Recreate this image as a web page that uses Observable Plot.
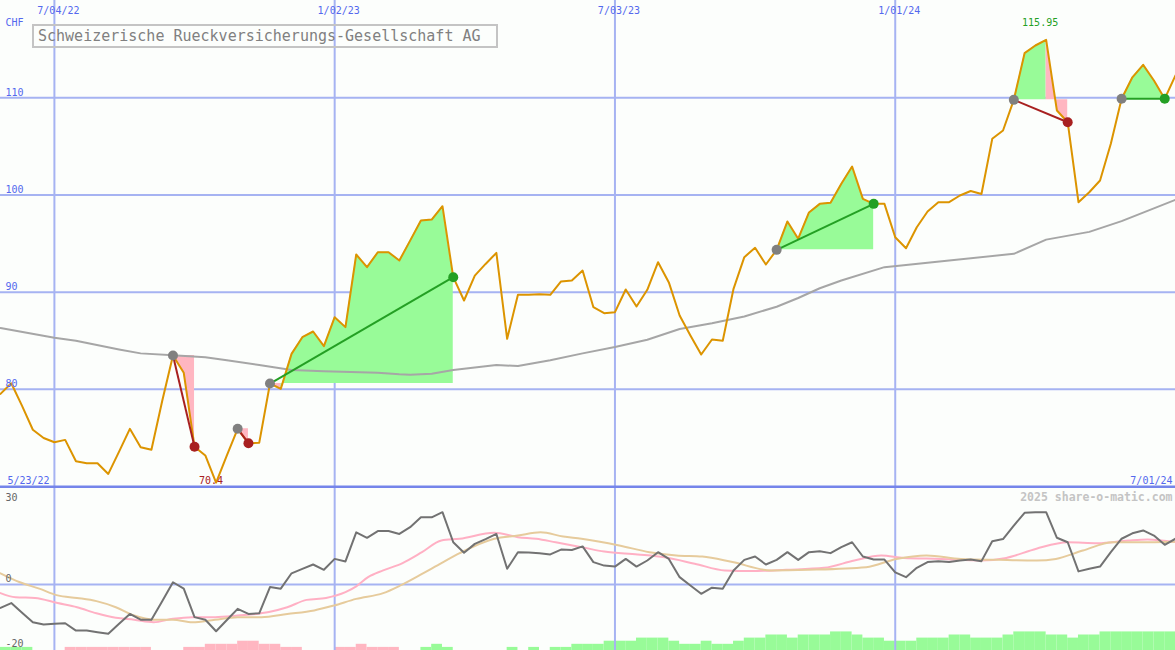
<!DOCTYPE html>
<html>
<head>
<meta charset="utf-8">
<script src="https://cdn.jsdelivr.net/npm/d3@7"></script>
<script src="https://cdn.jsdelivr.net/npm/@observablehq/plot@0.6"></script>
<style>
  html, body { margin: 0; padding: 0; background: #fcfefc; }
  #wrap { position: relative; width: 1175px; height: 650px; overflow: hidden; background: #fcfefc; font-family: "DejaVu Sans Mono", monospace; }
  #wrap svg { position: absolute; left: 0; overflow: hidden; }
  #title { position: absolute; left: 32px; top: 24px; width: 458px; height: 20px; border: 2px solid #c4c4c4;
           font: 15px/20px "DejaVu Sans Mono", monospace; color: #808080; padding-left: 4px; box-sizing: content-box; white-space: nowrap; z-index: 5; }
</style>
</head>
<body>
<div id="wrap"><div id="title"></div></div>
<script>
// ---------------- data ----------------
const titleText = "Schweizerische Rueckversicherungs-Gesellschaft AG";
const currency = "CHF";
const firstDate = "2022-05-30";           // weekly series, one point per Monday
const startLabel = "5/23/22";
const endLabel = "7/01/24";
const tickDates = ["2022-07-04", "2023-01-02", "2023-07-03", "2024-01-01"];
const tickLabels = ["7/04/22", "1/02/23", "7/03/23", "1/01/24"];
const priceTicks = [80, 90, 100, 110];
const oscTicks = [30, 0, -20];
const watermark = "2025 share-o-matic.com";

// weekly closing prices (CHF)
const price = [
  79.54, 80.63, 78.3, 75.84, 75.0, 74.56, 74.8, 72.6, 72.4, 72.4,
  71.3, 73.6, 75.94, 74.05, 73.78, 78.8, 83.48, 81.7, 74.1, 73.2,
  70.4, 73.2, 75.94, 74.46, 74.5, 80.6, 80.05, 83.65, 85.36, 85.95,
  84.44, 87.42, 86.4, 93.87, 92.57, 94.1, 94.1, 93.25, 95.3, 97.37,
  97.47, 98.84, 91.54, 89.14, 91.7, 92.9, 94.04, 85.2, 89.72, 89.72,
  89.79, 89.72, 91.1, 91.2, 92.22, 88.45, 87.84, 87.94, 90.27, 88.52,
  90.24, 93.08, 91.0, 87.6, 85.54, 83.58, 85.13, 85.0, 90.34, 93.6,
  94.56, 92.84, 94.35, 97.27, 95.5, 98.2, 99.08, 99.19, 101.14, 102.92,
  99.6, 99.08, 99.08, 95.65, 94.52, 96.68, 98.29, 99.25, 99.25, 99.94,
  100.4, 100.1, 105.77, 106.63, 109.78, 114.58, 115.37, 115.95, 108.68, 107.48,
  99.25, 100.28, 101.48, 105.26, 109.89, 112.1, 113.38, 111.77, 109.89, 112.3
];

// long moving average (week index, value)
const maWeeks  = [0, 5, 7, 11, 13, 16, 19, 21, 24, 27, 30, 35, 37, 38, 40, 42, 46, 48, 51, 54, 57, 60, 63, 66, 69, 72, 74, 76, 78, 82, 88, 94, 97, 101, 104, 109];
const maValues = [86.3, 85.3, 85.0, 84.1, 83.7, 83.5, 83.3, 83.0, 82.5, 82.0, 81.85, 81.7, 81.55, 81.5, 81.6, 82.0, 82.5, 82.4, 83.0, 83.7, 84.35, 85.1, 86.2, 86.8, 87.5, 88.5, 89.4, 90.4, 91.2, 92.57, 93.25, 93.94, 95.4, 96.2, 97.3, 99.5];

// trade signals (week indices)
const signalEntry = [16, 22, 25, 72, 94, 104];
const signalExit  = [18, 23, 42, 81, 99, 108];
// shaded zones: from week, to week, signal index, gain(1)/loss(0)
const fillFrom   = [16, 22, 25, 26, 72, 94, 97, 104];
const fillTo     = [18, 23, 26, 42, 81, 97, 99, 108];
const fillSignal = [0, 1, 2, 2, 3, 4, 4, 5];
const fillGain   = [0, 0, 0, 1, 1, 1, 0, 1];

// lower panel: weekly oscillator
const osc = [
  -7.3, -5.8, -8.8, -11.8, -12.5, -12.3, -12.1, -14.4, -14.4, -14.9,
  -15.4, -12.3, -9.2, -11.0, -11.0, -5.2, 0.7, -1.3, -10.2, -11.0,
  -14.6, -11.1, -7.6, -9.2, -9.0, -0.8, -1.3, 3.5, 4.9, 6.25,
  4.6, 8.0, 7.2, 16.3, 14.6, 16.7, 16.7, 15.8, 17.9, 21.0,
  21.0, 22.6, 13.2, 9.9, 12.7, 14.2, 15.8, 4.9, 10.1, 10.0,
  9.8, 9.4, 10.9, 10.8, 11.9, 7.0, 5.9, 5.6, 8.0, 5.6,
  7.5, 10.1, 8.0, 2.3, -0.3, -2.9, -1.0, -1.3, 4.4, 7.7,
  8.75, 6.25, 7.7, 10.1, 7.7, 10.1, 10.4, 9.8, 11.7, 13.2,
  8.75, 7.8, 7.8, 3.8, 2.3, 5.2, 7.0, 7.3, 7.0, 7.5,
  7.8, 7.3, 13.5, 14.2, 18.4, 22.4, 22.6, 22.6, 14.6, 13.2,
  4.1, 4.9, 5.6, 10.1, 14.3, 16.0, 16.9, 15.3, 12.4, 14.3
];
// smoothed signal lines (week position, value)
const pinkWeeks  = [0, 1.4, 3.2, 5.3, 7.1, 8.9, 10.7, 12.4, 14.2, 16, 17.8, 19.9, 22, 24.9, 26.6, 28.4, 30.2, 32, 33, 34.1, 35.5, 37.3, 39.1, 40.9, 42.6, 45.8, 48, 49.7, 51.5, 54, 56, 59.1, 61.6, 64.4, 67.2, 69.7, 72.9, 76.4, 79.2, 81.7, 83.8, 87.3, 90.9, 93.3, 96.1, 99, 101.8, 104.6, 106.4, 109.1];
const pinkValues = [-2.7, -4.0, -4.2, -5.8, -7.1, -9.0, -10.4, -11.0, -11.8, -10.7, -10.2, -10.2, -9.7, -8.6, -7.1, -4.8, -4.2, -2.4, -0.6, 2.3, 4.4, 6.7, 10.1, 13.75, 14.3, 16.2, 14.8, 14.3, 13.2, 11.6, 10.3, 9.4, 8.5, 6.5, 4.4, 4.2, 4.6, 5.2, 7.5, 9.1, 8.3, 8.0, 7.5, 8.3, 11.2, 13.2, 12.9, 13.75, 14.1, 13.2];
const tanWeeks   = [0, 1.8, 3.6, 5.3, 7.1, 8.9, 10.7, 12.4, 14.2, 16, 17.8, 19.9, 22, 24.2, 26.6, 29.1, 30.9, 33, 35.5, 37.1, 39.1, 40.9, 42.6, 45.8, 48, 50.1, 52.2, 53.9, 57.4, 60.2, 62.7, 65.1, 67.9, 71.5, 75, 80.3, 83.1, 85.9, 89.1, 92.6, 96.1, 97.9, 100.4, 103.2, 105.7, 109.1];
const tanValues  = [3.5, 0.7, -1.3, -3.4, -4.2, -5.2, -7.1, -9.7, -11.0, -11.0, -11.8, -11.0, -10.2, -10.2, -9.2, -8.1, -6.6, -4.5, -2.7, -0.3, 3.3, 6.7, 9.8, 14.3, 15.3, 16.3, 15.0, 14.3, 12.2, 10.1, 9.1, 8.75, 7.0, 4.4, 4.6, 5.4, 8.0, 9.1, 8.0, 7.7, 7.5, 8.0, 10.6, 13.2, 13.2, 13.4];
// weekly histogram levels (positive = green, negative = pink)
const histLevels = [
  1, 1, 1, 0, 0, 0, -1, -1, -1, -1,
  -1, -1, -1, -1, 0, 0, 0, -1, -1, -2,
  -2, -2, -3, -3, -2, -2, -1, -1, 0, 0,
  0, -1, -1, -2, -1, -1, -1, 0, 0, 1,
  2, 1, 0, 0, 0, 0, 0, 1, 0, 1,
  0, 1, 1, 2, 2, 2, 3, 3, 3, 4,
  4, 4, 3, 2, 2, 3, 2, 2, 3, 4,
  4, 5, 5, 4, 5, 5, 5, 6, 6, 5,
  4, 4, 3, 3, 3, 4, 4, 4, 5, 5,
  4, 4, 4, 5, 6, 6, 6, 5, 5, 4,
  5, 5, 6, 6, 6, 6, 6, 6, 6, 6
];

// ---------------- styles ----------------
const FONT = "DejaVu Sans Mono";
const GRID = "#a6b3f2";
const SEP = "#7585ea";
const LABEL_BLUE = "#5468ee";
const ORANGE = "#dc9400";
const GREEN_FILL = "#98fb98";
const PINK_FILL = "#ffb6c1";
const GAIN = "#24a024";
const LOSS = "#a82020";

document.getElementById("title").textContent = titleText;

const W0 = new Date(firstDate).getTime();
const wk = w => new Date(W0 + w * 7 * 864e5);
const xDomain = [wk(0), wk(price.length - 1)];
const ticks = tickDates.map(s => new Date(s));

const priceData = price.map((v, i) => ({w: i, date: wk(i), v}));
const maData = maWeeks.map((w, i) => ({date: wk(w), v: maValues[i]}));

const signals = signalEntry.map((e, i) => {
  const x = signalExit[i];
  return {e, x, d1: wk(e), d2: wk(x), p1: price[e], p2: price[x], gain: price[x] >= price[e]};
});

const fillData = [];
fillFrom.forEach((f, k) => {
  const base = price[signalEntry[fillSignal[k]]];
  for (let w = f; w <= fillTo[k]; w++) fillData.push({seg: k, gain: fillGain[k], date: wk(w), base, v: price[w]});
});

const minIdx = d3.minIndex(price);
const maxIdx = d3.maxIndex(price);

const wrap = document.getElementById("wrap");

// ---------------- upper panel ----------------
const upperPanel = Plot.plot({
  width: 1175, height: 488, margin: 0,
  x: {type: "utc", domain: xDomain, range: [0, 1175], axis: null},
  y: {domain: [69.8, 120], range: [488, 0], axis: null},
  style: {background: "transparent", fontFamily: FONT, overflow: "hidden"},
  marks: [
    Plot.ruleX(ticks, {stroke: GRID, strokeWidth: 2}),
    Plot.ruleY(priceTicks, {stroke: GRID, strokeWidth: 2}),
    Plot.areaY(fillData.filter(d => d.gain), {x: "date", y1: "base", y2: "v", z: "seg", fill: GREEN_FILL}),
    Plot.areaY(fillData.filter(d => !d.gain), {x: "date", y1: "base", y2: "v", z: "seg", fill: PINK_FILL}),
    Plot.line(maData, {x: "date", y: "v", stroke: "#a6a6a6", strokeWidth: 2}),
    Plot.line(priceData, {x: "date", y: "v", stroke: ORANGE, strokeWidth: 2}),
    Plot.link(signals, {x1: "d1", y1: "p1", x2: "d2", y2: "p2", stroke: d => d.gain ? GAIN : LOSS, strokeWidth: 2}),
    Plot.dot(signals, {x: "d1", y: "p1", r: 5, fill: "#808080"}),
    Plot.dot(signals, {x: "d2", y: "p2", r: 5, fill: d => d.gain ? GAIN : LOSS}),
    Plot.text(ticks, {x: d => d, frameAnchor: "top", dy: 13, dx: 4, lineAnchor: "bottom", text: (d, i) => tickLabels[i], fill: LABEL_BLUE, fontSize: 10}),
    Plot.text(priceTicks, {y: d => d, frameAnchor: "left", dx: 5, dy: -2, lineAnchor: "bottom", textAnchor: "start", text: d => String(d), fill: LABEL_BLUE, fontSize: 10}),
    Plot.text([currency], {frameAnchor: "top-left", dx: 5, dy: 25, lineAnchor: "bottom", textAnchor: "start", text: d => d, fill: LABEL_BLUE, fontSize: 10}),
    Plot.text([startLabel], {frameAnchor: "bottom-left", dx: 7, dy: -5, lineAnchor: "bottom", textAnchor: "start", text: d => d, fill: LABEL_BLUE, fontSize: 10}),
    Plot.text([endLabel], {frameAnchor: "bottom-right", dx: -3, dy: -5, lineAnchor: "bottom", textAnchor: "end", text: d => d, fill: LABEL_BLUE, fontSize: 10}),
    Plot.text([minIdx], {x: i => wk(i), frameAnchor: "bottom", dx: -5, dy: -5, lineAnchor: "bottom", text: i => price[i].toFixed(1), fill: LOSS, fontSize: 10}),
    Plot.text([maxIdx], {x: i => wk(i), frameAnchor: "top", dx: -6, dy: 25, lineAnchor: "bottom", text: i => price[i].toFixed(2), fill: GAIN, fontSize: 10}),
    Plot.ruleY([69.8], {stroke: SEP, strokeWidth: 3, dy: -1.5})
  ]
});
upperPanel.style.top = "0px";
wrap.appendChild(upperPanel);

// ---------------- lower panel: histogram ----------------
const histData = histLevels.map((l, i) => ({w: i, l})).filter(d => d.l !== 0);
const histPanel = Plot.plot({
  width: 1175, height: 162, margin: 0,
  x: {type: "utc", domain: xDomain, range: [0, 1175], axis: null},
  y: {domain: [0, 52.3], range: [162, 0], axis: null},
  style: {background: "transparent", overflow: "hidden"},
  marks: [
    Plot.rect(histData, {x1: d => wk(d.w), x2: d => wk(d.w + 1), y1: 0, y2: d => Math.abs(d.l), fill: d => d.l > 0 ? GREEN_FILL : PINK_FILL})
  ]
});
histPanel.style.top = "488px";
wrap.appendChild(histPanel);

// ---------------- lower panel: oscillator ----------------
const oscData = osc.map((v, i) => ({date: wk(i), v}));
const pinkData = pinkWeeks.map((w, i) => ({date: wk(w), v: pinkValues[i]}));
const tanData = tanWeeks.map((w, i) => ({date: wk(w), v: tanValues[i]}));
const oscLabelDy = t => (t === 30 ? 12 : t === 0 ? -3 : -2);
const lowerPanel = Plot.plot({
  width: 1175, height: 162, margin: 0,
  x: {type: "utc", domain: xDomain, range: [0, 1175], axis: null},
  y: {domain: [-20.625, 30], range: [162, 0], axis: null},
  style: {background: "transparent", fontFamily: FONT, overflow: "hidden"},
  marks: [
    Plot.ruleX(ticks, {stroke: GRID, strokeWidth: 2}),
    Plot.ruleY([0], {stroke: GRID, strokeWidth: 2}),
    Plot.line(pinkData, {x: "date", y: "v", stroke: "#ffb0c4", strokeWidth: 2, curve: "monotone-x"}),
    Plot.line(tanData, {x: "date", y: "v", stroke: "#e6cb9c", strokeWidth: 2, curve: "monotone-x"}),
    Plot.line(oscData, {x: "date", y: "v", stroke: "#727272", strokeWidth: 2}),
    ...oscTicks.map(t => Plot.text([t], {y: d => d, frameAnchor: "left", dx: 5, dy: oscLabelDy(t), lineAnchor: "bottom", textAnchor: "start",
      text: d => String(d), fill: "#666666", fontSize: 10})),
    Plot.text([watermark], {frameAnchor: "top-right", dx: -3, dy: 12, lineAnchor: "bottom", textAnchor: "end", text: d => d, fill: "#c4c4c4", fontSize: 11.5, fontWeight: "bold"})
  ]
});
lowerPanel.style.top = "488px";
wrap.appendChild(lowerPanel);
</script>
</body>
</html>
